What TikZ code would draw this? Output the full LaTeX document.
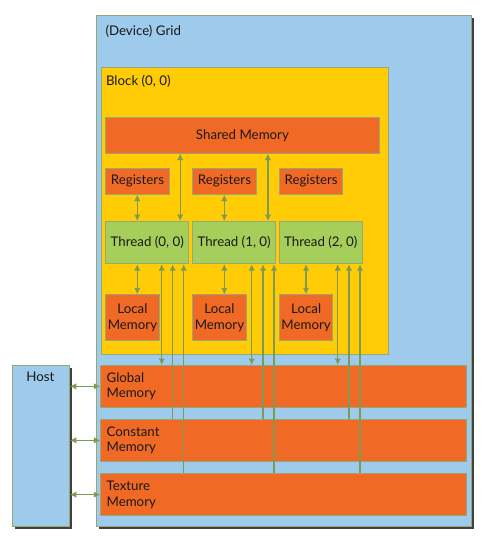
\documentclass[tikz,border=0pt]{standalone}
\usepackage{fontspec}
\setmainfont{Lato}
\usetikzlibrary{arrows.meta}
\definecolor{gridblue}{RGB}{158,202,235}
\definecolor{memorange}{RGB}{240,106,38}
\definecolor{blockyellow}{RGB}{255,204,5}
\definecolor{thrgreen}{RGB}{166,206,90}
\definecolor{edgecol}{RGB}{150,168,120}
\definecolor{arrcol}{RGB}{125,155,85}
\definecolor{shadowcol}{RGB}{64,64,64}
\definecolor{txt}{RGB}{25,25,25}
\begin{document}
\begin{tikzpicture}[x=1pt,y=-1pt,
  font=\fontsize{13.3}{15.6}\selectfont,
  box/.style={draw=edgecol, line width=0.9pt, inner sep=0pt, anchor=north west, text=txt},
  mem/.style={box, fill=memorange},
  thr/.style={box, fill=thrgreen},
  lbl/.style={anchor=west, inner sep=0pt, text=txt},
  link/.style={draw=arrcol, line width=1.3pt, {Latex[length=6.5pt,width=6.5pt]}-{Latex[length=6.5pt,width=6.5pt]}},
  uplink/.style={draw=arrcol, line width=1.3pt, {Latex[length=6.5pt,width=6.5pt]}-},
  bigmem/.style={mem, minimum width=365.7pt, minimum height=41.7pt, text width=354pt, align=left, inner xsep=5.8pt}
]
\useasboundingbox[fill=white] (0,0) rectangle (486,543);

% shadows
\fill[shadowcol] (99,18) rectangle (474.3,529);
\fill[shadowcol] (14.7,368) rectangle (72,528.7);

% grid
\node[box, fill=gridblue, minimum width=375.3pt, minimum height=511pt] (grid) at (96,15) {};
\node[lbl] (gridlbl) at (105.3,31) {(Device) Grid};

% host
\node[box, fill=gridblue, minimum width=57.3pt, minimum height=160.7pt] (host) at (11.7,365) {};
\node[anchor=center, inner sep=0pt, text=txt] (hostlbl) at (40.3,377) {Host};

% block
\node[box, fill=blockyellow, minimum width=287.3pt, minimum height=287.3pt] (block) at (100.7,66.7) {};
\node[lbl] (blocklbl) at (105.8,81) {Block (0, 0)};

% shared memory
\node[mem, minimum width=274pt, minimum height=35.7pt] (shared) at (105,117) {Shared Memory};

% registers
\node[mem, minimum width=63.4pt, minimum height=25.7pt] (reg0) at (105.3,168) {Registers};
\node[mem, minimum width=63.4pt, minimum height=25.7pt] (reg1) at (192.3,168) {Registers};
\node[mem, minimum width=63.4pt, minimum height=25.7pt] (reg2) at (279,168) {Registers};

% threads
\node[thr, minimum width=83pt, minimum height=42.3pt] (thr0) at (105.3,221) {Thread (0, 0)};
\node[thr, minimum width=82.7pt, minimum height=42.3pt] (thr1) at (192.3,221) {Thread (1, 0)};
\node[thr, minimum width=82.7pt, minimum height=42.3pt] (thr2) at (279,221) {Thread (2, 0)};

% local memories
\node[mem, minimum width=53.4pt, minimum height=45.7pt, align=center] (loc0) at (105.3,294.3) {Local\\Memory};
\node[mem, minimum width=53.4pt, minimum height=45.7pt, align=center] (loc1) at (192.3,294.3) {Local\\Memory};
\node[mem, minimum width=53.4pt, minimum height=45.7pt, align=center] (loc2) at (279,294.3) {Local\\Memory};

% device memories
\node[bigmem] (glob) at (100.3,365) {Global\\Memory};
\node[bigmem] (const) at (100.3,419) {Constant\\Memory};
\node[bigmem] (tex) at (100.3,473.3) {Texture\\Memory};

% register <-> thread
\coordinate (r0) at ([xshift=32pt]reg0.south west);
\coordinate (r1) at ([xshift=32pt]reg1.south west);
\draw[link] (r0) -- (r0 |- thr0.north);
\draw[link] (r1) -- (r1 |- thr1.north);

% shared <-> thread
\coordinate (s0) at ([xshift=-9pt]thr0.north east);
\coordinate (s1) at ([xshift=-8pt]thr1.north east);
\draw[link] (s0) -- (s0 |- shared.south);
\draw[link] (s1) -- (s1 |- shared.south);

% thread <-> local
\coordinate (l0) at ([xshift=32pt]thr0.south west);
\coordinate (l1) at ([xshift=32pt]thr1.south west);
\coordinate (l2) at ([xshift=27pt]thr2.south west);
\draw[link] (l0) -- (l0 |- loc0.north);
\draw[link] (l1) -- (l1 |- loc1.north);
\draw[link] (l2) -- (l2 |- loc2.north);

% thread <-> global, thread <- constant, thread <- texture
\coordinate (g0) at ([xshift=56.4pt]thr0.south west);
\coordinate (c0) at ([xshift=67.4pt]thr0.south west);
\coordinate (t0) at ([xshift=78.4pt]thr0.south west);
\coordinate (g1) at ([xshift=59.4pt]thr1.south west);
\coordinate (c1) at ([xshift=70.7pt]thr1.south west);
\coordinate (t1) at ([xshift=81.7pt]thr1.south west);
\coordinate (g2) at ([xshift=58.7pt]thr2.south west);
\coordinate (c2) at ([xshift=70pt]thr2.south west);
\coordinate (t2) at ([xshift=81pt]thr2.south west);
\foreach \i in {0,1,2}{
  \draw[link] (g\i) -- (g\i |- glob.north);
  \draw[uplink] (c\i) -- (c\i |- const.north);
  \draw[uplink] (t\i) -- (t\i |- tex.north);
}

% host <-> device memories
\draw[link] (host.east |- glob.west) -- (glob.west);
\draw[link] (host.east |- const.west) -- (const.west);
\draw[link] (host.east |- tex.west) -- (tex.west);
\end{tikzpicture}
\end{document}
